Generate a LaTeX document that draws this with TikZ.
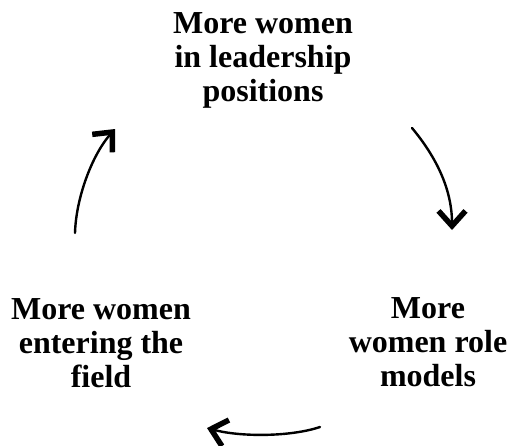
\documentclass[tikz,border=0pt]{standalone}
\usepackage{fontspec}
\setmainfont{Liberation Serif}
\usetikzlibrary{arrows.meta}
\tikzset{
  lbl/.style={align=center, inner sep=0pt, anchor=base, font=\fontsize{32}{34}\selectfont\bfseries},
  cyc/.style={line width=2.4pt, line cap=round, -{Straight Barb[length=15pt, width=27pt, line width=5.5pt]}}
}
\begin{document}
\begin{tikzpicture}[x=1pt,y=-1pt]
\useasboundingbox (0,0) rectangle (510,445);
\node[lbl] (top) at (263,101) {More women\\in leadership\\positions};
\node[lbl] (right) at (428,386) {More\\women role\\models};
\node[lbl] (left) at (101,387) {More women\\entering the\\field};
\coordinate (t1) at (412,128);
\coordinate (r1) at (452,230);
\coordinate (r2) at (320,427);
\coordinate (l1) at (207,428);
\coordinate (l2) at (75,233);
\coordinate (t2) at (115,129);
\draw[cyc] (t1) .. controls (432,152) and (452,185) .. (r1);
\draw[cyc] (r2) .. controls (290,437) and (240,437) .. (l1);
\draw[cyc] (l2) .. controls (76,198) and (92,155) .. (t2);
\end{tikzpicture}
\end{document}
